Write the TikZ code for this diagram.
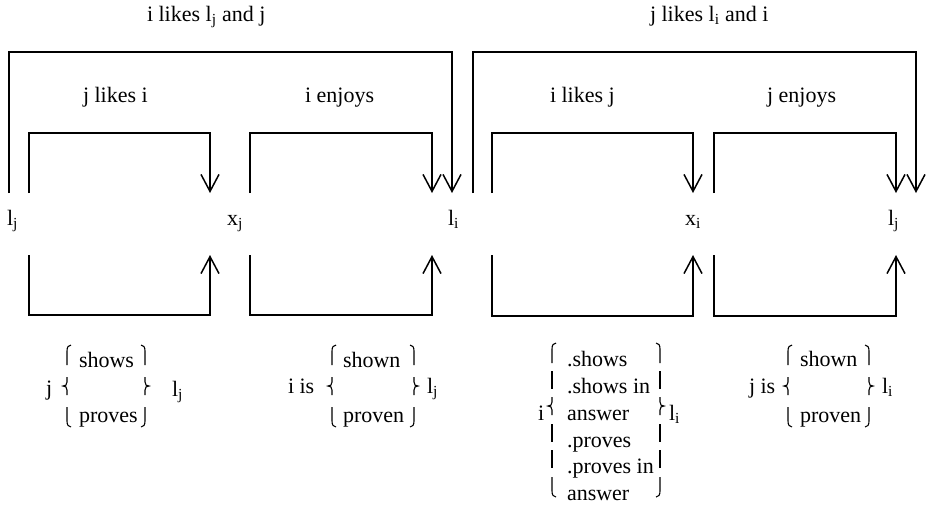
\documentclass[tikz,border=0pt]{standalone}
\usepackage{fontspec}
\setmainfont{Liberation Serif}
\usetikzlibrary{arrows.meta}
\tikzset{
  lbl/.style={anchor=base west, inner sep=0pt, outer sep=0pt, font=\fontsize{22}{26}\selectfont},
  conn/.style={line width=1.5pt, -{Straight Barb[length=17pt,width=18pt]}},
  bracepen/.style={line width=1.1pt},
  btop/.pic={\draw[bracepen] (4,-11) .. controls (1.5,-11) and (0,-9) .. (0,-5) -- (0,9);},
  bbar/.pic={\draw[bracepen] (0,-9) -- (0,9);},
  bmid/.pic={\draw[bracepen] (0,-9) -- (0,-4) .. controls (0,-1) and (-1.5,0) .. (-4,0) .. controls (-1.5,0) and (0,1) .. (0,4) -- (0,9);},
  bbot/.pic={\draw[bracepen] (0,-9) -- (0,5) .. controls (0,9) and (1.5,11) .. (4,11);}
}
\newcommand{\threebrace}[1]{%
  \pic at (#1,356) {btop}; \pic at (#1,386) {bmid}; \pic at (#1,416) {bbot};}
\newcommand{\threebraceR}[1]{%
  \pic[xscale=-1] at (#1,356) {btop}; \pic[xscale=-1] at (#1,386) {bmid}; \pic[xscale=-1] at (#1,416) {bbot};}
\begin{document}
\begin{tikzpicture}[x=1pt,y=-1pt]
\useasboundingbox (0,0) rectangle (928,512);

% titles
\node[lbl] (t1) at (147,21) {i likes l\textsubscript{j} and j};
\node[lbl] (t2) at (650,21) {j likes l\textsubscript{i} and i};
\node[lbl] (t3) at (83,102) {j likes i};
\node[lbl] (t4) at (305,102) {i enjoys};
\node[lbl] (t5) at (550,102) {i likes j};
\node[lbl] (t6) at (767,102) {j enjoys};

% point labels
\node[lbl] (Lj1) at (7,225) {l\textsubscript{j}};
\node[lbl] (Xj) at (227,225) {x\textsubscript{j}};
\node[lbl] (Li1) at (448,225) {l\textsubscript{i}};
\node[lbl] (Xi) at (685,225) {x\textsubscript{i}};
\node[lbl] (Lj2) at (888,225) {l\textsubscript{j}};

% connector end points
\coordinate (a1) at (9,193);   \coordinate (a2) at (452,193);
\coordinate (b1) at (29,193);  \coordinate (b2) at (210,193);
\coordinate (c1) at (250,193); \coordinate (c2) at (432,193);
\coordinate (d1) at (473,193); \coordinate (d2) at (916,193);
\coordinate (e1) at (492,193); \coordinate (e2) at (693,193);
\coordinate (f1) at (714,193); \coordinate (f2) at (896,193);
\coordinate (g1) at (29,255);  \coordinate (g2) at (210,255);
\coordinate (h1) at (250,255); \coordinate (h2) at (432,255);
\coordinate (k1) at (492,255); \coordinate (k2) at (693,255);
\coordinate (m1) at (714,255); \coordinate (m2) at (896,255);

% upper connectors
\draw[conn] (a1) -- ++(0,-141) -| (a2);
\draw[conn] (b1) -- ++(0,-60) -| (b2);
\draw[conn] (c1) -- ++(0,-60) -| (c2);
\draw[conn] (d1) -- ++(0,-141) -| (d2);
\draw[conn] (e1) -- ++(0,-60) -| (e2);
\draw[conn] (f1) -- ++(0,-60) -| (f2);
% lower connectors
\draw[conn] (g1) -- ++(0,60) -| (g2);
\draw[conn] (h1) -- ++(0,60) -| (h2);
\draw[conn] (k1) -- ++(0,61) -| (k2);
\draw[conn] (m1) -- ++(0,61) -| (m2);

% bottom left text
\node[lbl] (s1) at (46,395) {j};
\node[lbl] (s2) at (79,367) {shows};
\node[lbl] (s3) at (79,422) {proves};
\node[lbl] (s4) at (172,396) {l\textsubscript{j}};
\threebrace{67}
\threebraceR{145}

\node[lbl] (u1) at (288,393) {i is};
\node[lbl] (u2) at (343,367) {shown};
\node[lbl] (u3) at (343,422) {proven};
\node[lbl] (u4) at (427,393) {l\textsubscript{j}};
\threebrace{332}
\threebraceR{414}

% bottom right text
\node[lbl] (v0) at (538,420) {i};
\node[lbl] (v1) at (567,366) {.shows};
\node[lbl] (v2) at (567,393) {.shows in};
\node[lbl] (v3) at (567,420) {answer};
\node[lbl] (v4) at (567,447) {.proves};
\node[lbl] (v5) at (567,473) {.proves in};
\node[lbl] (v6) at (567,500) {answer};
\node[lbl] (v7) at (669,420) {l\textsubscript{i}};
\pic at (552,354) {btop}; \pic at (552,380) {bbar}; \pic at (552,406) {bmid};
\pic at (552,433) {bbar}; \pic at (552,459) {bbar}; \pic at (552,486) {bbot};
\pic[xscale=-1] at (660,354) {btop}; \pic[xscale=-1] at (660,380) {bbar}; \pic[xscale=-1] at (660,406) {bmid};
\pic[xscale=-1] at (660,433) {bbar}; \pic[xscale=-1] at (660,459) {bbar}; \pic[xscale=-1] at (660,486) {bbot};

\node[lbl] (w1) at (749,393) {j is};
\node[lbl] (w2) at (800,366) {shown};
\node[lbl] (w3) at (800,422) {proven};
\node[lbl] (w4) at (882,393) {l\textsubscript{i}};
\threebrace{788}
\threebraceR{869}
\end{tikzpicture}
\end{document}
